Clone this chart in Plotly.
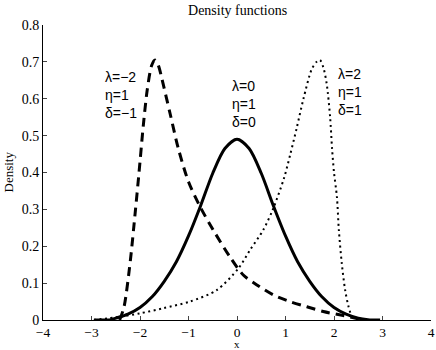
import plotly.graph_objects as go

# Solid curve: lambda=0, eta=1, delta=0
solid_x = [-2.95, -2.6, -2.5, -2.25, -2.0, -1.75, -1.5, -1.25, -1.0, -0.75, -0.5, -0.25, 0.0,
           0.25, 0.5, 0.75, 1.0, 1.25, 1.5, 1.75, 2.0, 2.25, 2.5, 2.7, 2.95]
solid_y = [0.0, 0.001, 0.005, 0.016, 0.034, 0.063, 0.105, 0.158, 0.228, 0.31, 0.398, 0.465, 0.49,
           0.465, 0.398, 0.31, 0.228, 0.158, 0.105, 0.063, 0.034, 0.016, 0.005, 0.001, 0.0]

# Dashed curve: lambda=-2, eta=1, delta=-1
dash_x = [-2.42, -2.33, -2.2, -2.1, -2.02, -1.93, -1.85, -1.76, -1.69, -1.62, -1.55, -1.38, -1.21,
          -1.0, -0.76, -0.49, -0.14, 0.13, 0.41, 0.75, 1.09, 1.44, 1.78, 2.19, 2.47, 2.62]
dash_y = [0.0, 0.035, 0.16, 0.29, 0.40, 0.53, 0.625, 0.69, 0.705, 0.69, 0.655, 0.56, 0.465,
          0.375, 0.307, 0.244, 0.17, 0.122, 0.095, 0.068, 0.05, 0.036, 0.023, 0.012, 0.004, 0.0]

# Dotted curve: lambda=2, eta=1, delta=1
dot_x = [-2.95, -2.41, -2.0, -1.52, -0.97, -0.42, 0.03, 0.27, 0.54, 0.74, 0.97, 1.1, 1.23, 1.37,
         1.54, 1.64, 1.71, 1.78, 1.85, 1.92, 1.96, 2.0, 2.06, 2.1, 2.16, 2.23, 2.3, 2.37, 2.43]
dot_y = [0.0, 0.009, 0.018, 0.032, 0.05, 0.081, 0.14, 0.19, 0.244, 0.30, 0.385, 0.45, 0.52, 0.60,
         0.68, 0.70, 0.705, 0.685, 0.64, 0.55, 0.465, 0.40, 0.334, 0.244, 0.154, 0.081, 0.036, 0.009, 0.0]

x_ticks = [-4, -3, -2, -1, 0, 1, 2, 3, 4]
x_tick_labels = ["\u22124", "\u22123", "\u22122", "\u22121", "0", "1", "2", "3", "4"]
y_ticks = [0, 0.1, 0.2, 0.3, 0.4, 0.5, 0.6, 0.7, 0.8]
y_tick_labels = ["0", "0.1", "0.2", "0.3", "0.4", "0.5", "0.6", "0.7", "0.8"]

labels = ["\u03bb=\u22122<br>\u03b7=1<br>\u03b4=\u22121",
          "\u03bb=0<br>\u03b7=1<br>\u03b4=0",
          "\u03bb=2<br>\u03b7=1<br>\u03b4=1"]
label_x = [-2.76, -0.14, 2.04]
label_y = [0.61, 0.587, 0.619]

serif = "Liberation Serif, Times New Roman, serif"

fig = go.Figure()
fig.add_trace(go.Scatter(x=solid_x, y=solid_y, mode="lines",
                         line=dict(color="black", width=3, shape="spline", smoothing=0.8)))
fig.add_trace(go.Scatter(x=dash_x, y=dash_y, mode="lines",
                         line=dict(color="black", width=3, dash="9px,6px", shape="spline", smoothing=0.8)))
fig.add_trace(go.Scatter(x=dot_x, y=dot_y, mode="lines",
                         line=dict(color="black", width=2, dash="2px,3.5px", shape="spline", smoothing=0.8)))

for t, xx, yy in zip(labels, label_x, label_y):
    fig.add_annotation(x=xx, y=yy, text=t, showarrow=False, xanchor="left", yanchor="middle",
                       align="left", font=dict(family="Liberation Sans, Arial", size=14, color="black"))

# axis labels
fig.add_annotation(x=0.5, y=0, xref="paper", yref="paper", yshift=-24, yanchor="middle",
                   text="x", showarrow=False, font=dict(family=serif, size=11, color="black"))
fig.add_annotation(x=0, y=0.5, xref="paper", yref="paper", xshift=-35, xanchor="center",
                   yanchor="middle", textangle=-90, text="Density", showarrow=False,
                   font=dict(family=serif, size=13, color="black"))

fig.update_layout(
    width=436, height=350,
    margin=dict(l=43, r=5, t=25, b=30, autoexpand=False),
    paper_bgcolor="white", plot_bgcolor="white",
    showlegend=False,
    title=dict(text="Density functions", x=0.545, xanchor="center", y=0.97, yanchor="middle",
               font=dict(family=serif, size=14, color="black")),
    font=dict(family=serif, size=14, color="black"),
)
fig.update_xaxes(range=[-4, 4], tickvals=x_ticks, ticktext=x_tick_labels, ticks="inside", ticklen=4,
                 showline=True, linecolor="black", linewidth=1, showgrid=False, zeroline=False,
                 automargin=False, tickfont=dict(size=13.5))
fig.update_yaxes(range=[0, 0.8], tickvals=y_ticks, ticktext=y_tick_labels, ticks="inside", ticklen=4,
                 showline=True, linecolor="black", linewidth=1, showgrid=False, zeroline=False,
                 automargin=False)

fig.write_html("out.html", config={"displayModeBar": False},
               post_script="document.body.style.margin='0px';")
